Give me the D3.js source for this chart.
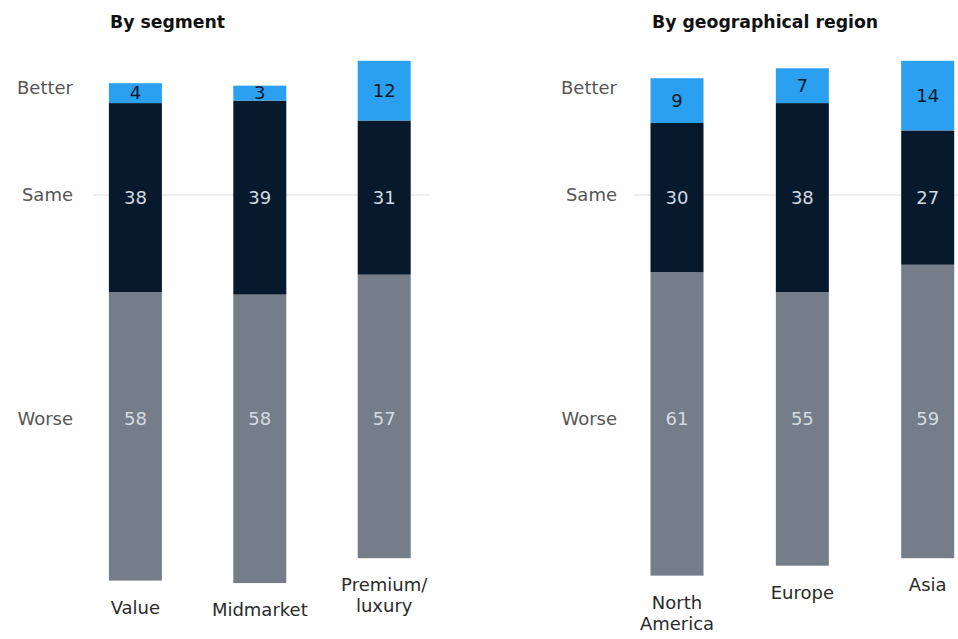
<!DOCTYPE html>
<html>
<head>
<meta charset="utf-8">
<script src="https://cdn.jsdelivr.net/npm/d3@7"></script>
<style>
  html, body { margin: 0; padding: 0; background: #fff; }
  svg { display: block; font-family: "DejaVu Sans", "Liberation Sans", Arial, sans-serif; }
</style>
</head>
<body>
<svg id="chart" width="958" height="639"></svg>
<script>
// Share of respondents (%) by outlook, stacked Worse / Same / Better
const rows = ["Better", "Same", "Worse"];

const segmentCategories = [["Value"], ["Midmarket"], ["Premium/", "luxury"]];
const segmentBetter = [4, 3, 12];
const segmentSame = [38, 39, 31];
const segmentWorse = [58, 58, 57];

const regionCategories = [["North", "America"], ["Europe"], ["Asia"]];
const regionBetter = [9, 7, 14];
const regionSame = [30, 38, 27];
const regionWorse = [61, 55, 59];

const colors = { Better: "#2ba0f0", Same: "#07192d", Worse: "#747d88" };
const labelColors = { Better: "#07192d", Same: "#d3d9e0", Worse: "#d6dbe1" };

const svg = d3.select("#chart");

// Vertical scale: value units measured from the middle of the "Same" segment,
// so every bar's "Same" block is centred on the Same gridline.
const centerY = 197.6, unit = 4.974;
const y = d3.scaleLinear().domain([-70, 70]).range([centerY + 70 * unit, centerY - 70 * unit]);

// Row label positions
const rowY = d3.scaleOrdinal().domain(rows).range([88, 195, 419]);

function panel(opts) {
  const g = svg.append("g");
  const n = opts.categories.length;
  const data = d3.range(n).map(i => ({
    cat: opts.categories[i],
    Better: opts.better[i],
    Same: opts.same[i],
    Worse: opts.worse[i]
  }));

  const x = d3.scalePoint().domain(d3.range(n)).range(opts.xRange);
  const barW = 53;

  // Title
  g.append("text")
    .attr("x", opts.titleX).attr("y", 28)
    .attr("font-size", 17.3).attr("font-weight", "bold").attr("fill", "#111")
    .text(opts.title);

  // Same gridline
  g.append("line")
    .attr("x1", opts.gridX[0]).attr("x2", opts.gridX[1])
    .attr("y1", rowY("Same")).attr("y2", rowY("Same"))
    .attr("stroke", "#dfe1e3").attr("stroke-width", 1);

  // Row labels
  g.selectAll("text.row").data(rows).join("text")
    .attr("class", "row")
    .attr("x", opts.rowLabelX).attr("y", d => rowY(d))
    .attr("dy", "0.35em")
    .attr("text-anchor", "end")
    .attr("font-size", 18).attr("fill", "#555")
    .text(d => d);

  // Stack: Worse at the bottom, then Same, then Better
  const stack = d3.stack().keys(["Worse", "Same", "Better"])(data);
  const offset = d => d.Worse + d.Same / 2;

  const layers = g.selectAll("g.layer").data(stack).join("g")
    .attr("class", "layer")
    .attr("fill", s => colors[s.key]);

  layers.selectAll("rect").data(s => s.map((p, i) => ({ p, i, key: s.key }))).join("rect")
    .attr("x", d => x(d.i) - barW / 2)
    .attr("width", barW)
    .attr("y", d => y(d.p[1] - offset(data[d.i])))
    .attr("height", d => y(d.p[0] - offset(data[d.i])) - y(d.p[1] - offset(data[d.i])));

  // Value labels
  layers.selectAll("text").data(s => s.map((p, i) => ({ p, i, key: s.key }))).join("text")
    .attr("x", d => x(d.i))
    .attr("y", d => {
      if (d.key === "Worse") return rowY("Worse");
      const o = offset(data[d.i]);
      return y((d.p[0] + d.p[1]) / 2 - o);
    })
    .attr("dy", "0.35em")
    .attr("text-anchor", "middle")
    .attr("font-size", 18)
    .attr("fill", d => labelColors[d.key])
    .text(d => d.p[1] - d.p[0]);

  // Category labels under each bar
  const cats = g.selectAll("text.cat").data(data).join("text")
    .attr("class", "cat")
    .attr("text-anchor", "middle")
    .attr("font-size", 18).attr("fill", "#2a2a2a")
    .attr("x", (d, i) => x(i))
    .attr("y", d => y(-offset(d)) + 33);
  cats.selectAll("tspan").data((d, i) => d.cat.map(t => ({ t, i }))).join("tspan")
    .attr("x", d => x(d.i))
    .attr("dy", (d, j) => j === 0 ? 0 : 21)
    .text(d => d.t);
}

panel({
  title: "By segment", titleX: 110,
  categories: segmentCategories, better: segmentBetter, same: segmentSame, worse: segmentWorse,
  xRange: [135.4, 384.2], gridX: [93, 430], rowLabelX: 73
});

panel({
  title: "By geographical region", titleX: 652,
  categories: regionCategories, better: regionBetter, same: regionSame, worse: regionWorse,
  xRange: [677, 927.7], gridX: [633, 958], rowLabelX: 617
});
</script>
</body>
</html>
